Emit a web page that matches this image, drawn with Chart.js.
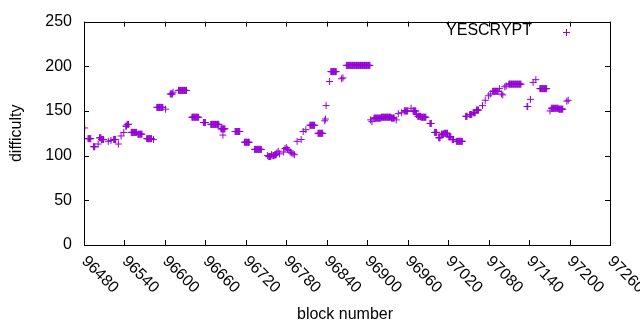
<!DOCTYPE html>
<html>
<head>
<meta charset="utf-8">
<script src="https://cdn.jsdelivr.net/npm/chart.js@4.4.1/dist/chart.umd.min.js"></script>
<style>
  html, body { margin: 0; padding: 0; background: #fff; }
</style>
</head>
<body>
<canvas id="c" width="640" height="330"></canvas>
<script>
// ---------------------------------------------------------------------------
// YESCRYPT difficulty per block, drawn gnuplot-style with Chart.js.
// Difficulty stays flat for stretches of blocks, so the values are kept as
// runs: every block from runStart[i] to runEnd[i] has difficulty runValue[i].
// ---------------------------------------------------------------------------

const seriesName = "YESCRYPT";

const runStart = [
  96481, 96486, 96494, 96501, 96503, 96506, 96516, 96520, 96524, 96531,
  96535, 96539, 96542, 96544, 96550, 96560, 96573, 96583, 96588, 96601,
  96608, 96612, 96620, 96640, 96657, 96668, 96683, 96686, 96704, 96718,
  96733, 96752, 96754, 96758, 96760, 96763, 96766, 96768, 96770, 96776,
  96778, 96780, 96782, 96784, 96786, 96788, 96790, 96792, 96796, 96802,
  96805, 96809, 96815, 96827, 96837, 96838, 96839, 96844, 96846, 96862,
  96864, 96869, 96905, 96907, 96910, 96921, 96936, 96943, 96946, 96951,
  96955, 96965, 96968, 96973, 96975, 96980, 96993, 97000, 97006, 97010,
  97014, 97021, 97026, 97032, 97046, 97052, 97057, 97062, 97071, 97075,
  97080, 97083, 97086, 97096, 97099, 97101, 97104, 97106, 97110, 97137,
  97142, 97146, 97150, 97156, 97171, 97173, 97184, 97196, 97198
];
const runEnd = [
  96481, 96490, 96496, 96501, 96505, 96509, 96516, 96520, 96527, 96531,
  96535, 96539, 96543, 96546, 96558, 96566, 96580, 96583, 96597, 96601,
  96611, 96612, 96632, 96650, 96660, 96680, 96689, 96686, 96711, 96725,
  96743, 96752, 96757, 96758, 96762, 96765, 96766, 96768, 96770, 96776,
  96778, 96780, 96782, 96784, 96786, 96788, 96790, 96792, 96796, 96802,
  96805, 96809, 96822, 96834, 96837, 96838, 96839, 96844, 96854, 96862,
  96864, 96904, 96905, 96907, 96920, 96935, 96940, 96943, 96946, 96951,
  96960, 96965, 96972, 96973, 96979, 96987, 96995, 97003, 97008, 97013,
  97019, 97024, 97028, 97041, 97048, 97055, 97060, 97065, 97071, 97075,
  97080, 97083, 97094, 97096, 97099, 97101, 97104, 97106, 97128, 97138,
  97142, 97146, 97150, 97166, 97171, 97183, 97190, 97196, 97198
];
const runValue = [
  131, 119, 110, 113, 120, 118, 116, 117, 118, 113,
  122, 126, 133, 135, 126, 124, 119, 118, 154, 152,
  169, 171, 173, 143, 137, 135, 130, 123, 127, 115,
  107, 100, 99, 101, 100, 101, 103, 105, 102, 104,
  108, 109, 107, 106, 104, 103, 102, 101, 116, 118,
  127, 129, 134, 125, 139, 141, 156, 183, 194, 186,
  187, 201, 140, 138, 142, 143, 142, 140, 147, 148,
  150, 153, 150, 146, 144, 143, 136, 126, 120, 124,
  125, 121, 118, 116, 144, 146, 148, 151, 156, 162,
  167, 169, 172, 175, 169, 168, 177, 178, 180, 155,
  163, 182, 185, 175, 150, 153, 152, 161, 162
];

const xTicks = [96480, 96540, 96600, 96660, 96720, 96780, 96840,
                96900, 96960, 97020, 97080, 97140, 97200, 97260];
const yTicks = [0, 50, 100, 150, 200, 250];

const PURPLE = "#9400d3";
const FONT = "'Liberation Sans', Arial, sans-serif";
const TICK_LEN = 5;

// --- expand the runs into one point per block --------------------------------

const points = [];
runStart.forEach((s, i) => {
  for (let b = s; b <= runEnd[i]; b++) points.push({ x: b, y: runValue[i] });
});

// --- frame, inward ticks, rotated x labels, titles and key -------------------

const gnuplotFrame = {
  id: "gnuplotFrame",
  afterDraw(chart) {
    const { ctx, chartArea: a, scales } = chart;
    const sx = scales.x, sy = scales.y;
    ctx.save();
    ctx.strokeStyle = "#000";
    ctx.lineWidth = 1;

    // border box
    ctx.strokeRect(Math.round(a.left) + 0.5, Math.round(a.top) + 0.5,
      Math.round(a.right - a.left), Math.round(a.bottom - a.top));

    // ticks on all four sides, pointing inwards
    ctx.beginPath();
    xTicks.forEach((v) => {
      const px = Math.round(sx.getPixelForValue(v)) + 0.5;
      ctx.moveTo(px, a.bottom); ctx.lineTo(px, a.bottom - TICK_LEN);
      ctx.moveTo(px, a.top); ctx.lineTo(px, a.top + TICK_LEN);
    });
    yTicks.forEach((v) => {
      const py = Math.round(sy.getPixelForValue(v)) + 0.5;
      ctx.moveTo(a.left, py); ctx.lineTo(a.left + TICK_LEN, py);
      ctx.moveTo(a.right, py); ctx.lineTo(a.right - TICK_LEN, py);
    });
    ctx.stroke();

    // x tick labels, turned 45 degrees clockwise, starting at the tick
    ctx.fillStyle = "#000";
    ctx.font = `16px ${FONT}`;
    ctx.textAlign = "left";
    ctx.textBaseline = "alphabetic";
    xTicks.forEach((v) => {
      const px = sx.getPixelForValue(v);
      ctx.save();
      ctx.translate(px - 3, a.bottom + 17);
      ctx.rotate(Math.PI / 4);
      ctx.fillText(String(v), 0, 0);
      ctx.restore();
    });

    // axis titles
    ctx.textAlign = "center";
    ctx.textBaseline = "middle";
    ctx.fillText("block number", (a.left + a.right) / 2 - 2, 315);
    ctx.save();
    ctx.translate(17, (a.top + a.bottom) / 2);
    ctx.rotate(-Math.PI / 2);
    ctx.fillText("difficulty", 0, 0);
    ctx.restore();

    // key, top right inside the frame
    ctx.textAlign = "right";
    ctx.fillText(seriesName, 532, 31);
    ctx.strokeStyle = PURPLE;
    ctx.beginPath();
    ctx.moveTo(563, 32.5); ctx.lineTo(570, 32.5);
    ctx.moveTo(566.5, 29); ctx.lineTo(566.5, 36);
    ctx.stroke();

    ctx.restore();
  },
};

// --- chart -------------------------------------------------------------------

new Chart(document.getElementById("c"), {
  type: "scatter",
  data: {
    datasets: [{
      label: seriesName,
      data: points,
      pointStyle: "cross",
      pointRadius: 3.5,
      pointHoverRadius: 3.5,
      borderColor: PURPLE,
      backgroundColor: PURPLE,
      borderWidth: 1,
    }],
  },
  options: {
    responsive: false,
    animation: false,
    devicePixelRatio: 1,
    events: [],
    layout: { padding: { top: 18, right: 30, bottom: 0, left: 0 } },
    plugins: { legend: { display: false }, tooltip: { enabled: false } },
    scales: {
      x: {
        type: "linear",
        min: xTicks[0],
        max: xTicks[xTicks.length - 1],
        afterBuildTicks: (s) => { s.ticks = xTicks.map((v) => ({ value: v })); },
        afterFit: (s) => { s.height = 85; },
        ticks: { display: false },
        grid: { display: false, drawTicks: false },
        border: { display: false },
      },
      y: {
        min: yTicks[0],
        max: yTicks[yTicks.length - 1],
        afterBuildTicks: (s) => { s.ticks = yTicks.map((v) => ({ value: v })); },
        afterFit: (s) => { s.width = 84; },
        ticks: { color: "#000", padding: 12, font: { family: FONT, size: 16 } },
        grid: { display: false, drawTicks: false },
        border: { display: false },
      },
    },
  },
  plugins: [gnuplotFrame],
});
</script>
</body>
</html>
